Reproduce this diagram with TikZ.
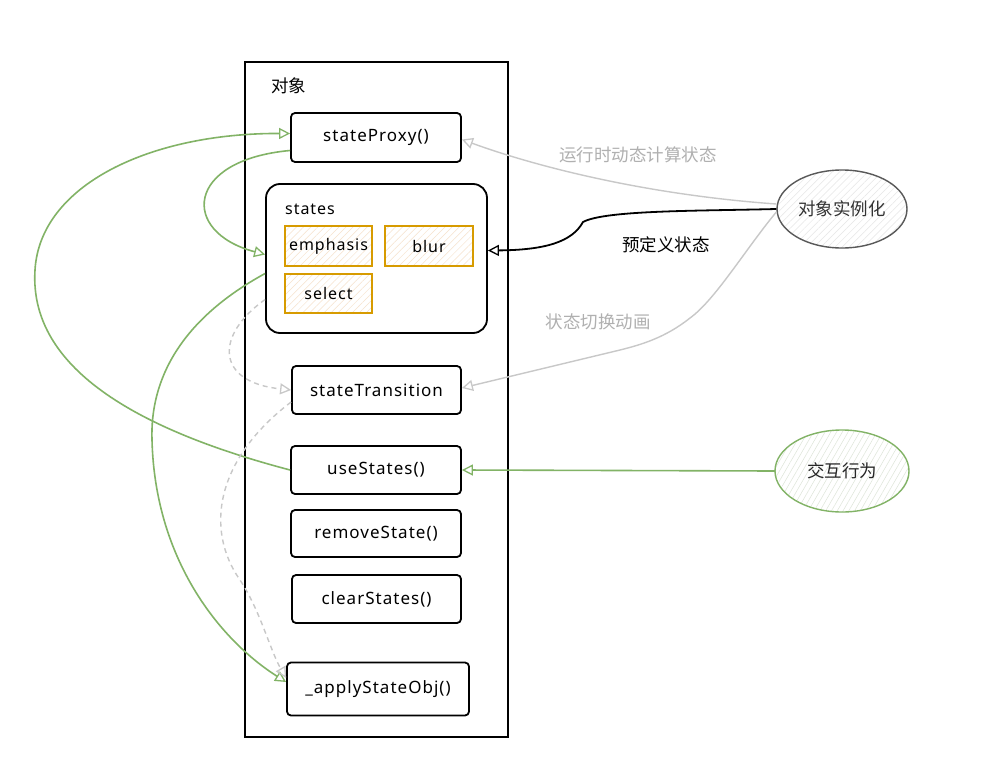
\documentclass[tikz,border=0pt]{standalone}
\usepackage{fontspec}
\setmainfont[LetterSpace=6]{Noto Sans}
\newfontfamily\cjk{Noto Sans CJK SC}
\usetikzlibrary{arrows.meta,patterns.meta,shapes.geometric}
\definecolor{gline}{HTML}{C8C8C8}
\definecolor{gtext}{HTML}{B0B0B0}
\definecolor{green1}{HTML}{82B366}
\definecolor{orange1}{HTML}{D79B00}
\definecolor{orhatch}{HTML}{F6E2CC}
\definecolor{ghatch}{HTML}{E6E6E6}
\definecolor{grhatch}{HTML}{DDE5D8}
\tikzset{
  container/.style={draw=black, line width=1.7pt, minimum width=263pt, minimum height=675pt, inner sep=0pt},
  method/.style={draw=black, line width=1.8pt, rounded corners=4pt, fill=white, font=\fontsize{17}{19}\selectfont, inner sep=0pt},
  statebox/.style={draw=black, line width=1.8pt, rounded corners=14pt, fill=white, inner sep=0pt},
  stateitem/.style={draw=orange1, line width=1.7pt, pattern={Lines[angle=45,distance=5pt,line width=0.5pt]}, pattern color=orhatch, font=\fontsize{16}{18}\selectfont, inner sep=0pt},
  bubble/.style={ellipse, line width=1.4pt, inner sep=0pt},
  cjklabel/.style={font=\cjk\fontsize{17.5}{19}\selectfont, inner sep=0pt},
  tip/.style={-{Triangle[open,length=11pt,width=11pt,line width=1.3pt]}},
  grayarrow/.style={tip, draw=gline, line width=1.4pt},
  blackarrow/.style={tip, draw=black, line width=1.8pt},
  greenarrow/.style={tip, draw=green1, line width=1.6pt},
  dasharrow/.style={tip, draw=gline, line width=1.4pt, dash pattern=on 5pt off 4pt},
}
\begin{document}
\begin{tikzpicture}[x=1pt,y=-1pt]
\useasboundingbox (0,0) rectangle (985,771);
\fill[white] (0,0) rectangle (985,771);

% container
\node[container] (obj) at (376.5,399.5) {};
\node[cjklabel, anchor=west] (objlabel) at (271,86) {对象};

% methods
\node[method, minimum width=170pt, minimum height=49pt] (proxy) at (376,137.5) {stateProxy()};
\node[statebox, minimum width=221pt, minimum height=149pt] (states) at (376.5,258.5) {};
\node[anchor=west, font=\fontsize{16}{18}\selectfont, inner sep=0pt] (stlabel) at (285,209) {states};
\node[stateitem, minimum width=87pt, minimum height=40pt] (emph) at (328.5,246) {emphasis};
\node[stateitem, minimum width=88pt, minimum height=40pt] (blur) at (429,246) {blur};
\node[stateitem, minimum width=87pt, minimum height=39pt] (select) at (328.5,293.5) {select};
\node[method, minimum width=169pt, minimum height=48pt] (trans) at (376.5,390) {stateTransition};
\node[method, minimum width=170pt, minimum height=48pt] (use) at (376,470) {useStates()};
\node[method, minimum width=170pt, minimum height=47pt] (remove) at (376,533.5) {removeState()};
\node[method, minimum width=169pt, minimum height=48pt] (clear) at (376.5,599) {clearStates()};
\node[method, minimum width=182pt, minimum height=53pt] (apply) at (378,689) {\_applyStateObj()};

% bubbles
\node[bubble, draw=black!65, pattern={Lines[angle=45,distance=5pt,line width=0.5pt]}, pattern color=ghatch, minimum width=130pt, minimum height=78pt] (inst) at (842,209) {};
\node[cjklabel, text=black!80] (instlabel) at (842,209) {对象实例化};
\node[bubble, draw=green1, pattern={Lines[angle=60,distance=5pt,line width=0.5pt]}, pattern color=grhatch, minimum width=134pt, minimum height=82pt] (inter) at (842,471) {};
\node[cjklabel, text=black!85] (interlabel) at (842,471) {交互行为};

% labels
\node[cjklabel, text=gtext] (l1) at (638,155) {运行时动态计算状态};
\node[cjklabel] (l2) at (666,245) {预定义状态};
\node[cjklabel, text=gtext] (l3) at (598,322) {状态切换动画};

% connectors from instantiation
\draw[grayarrow] ([yshift=5pt]inst.west) .. controls (650,195) and (540,168) .. ([yshift=-2pt]proxy.east);
\draw[blackarrow] (inst.west) .. controls (700,211) and (605,210) .. (583,222)
   .. controls (572,242) and (545,250) .. ([yshift=8pt]states.east);
\draw[grayarrow] ([yshift=-3pt]inst.west) .. controls (745,250) and (715,300) .. (690,318)
   .. controls (665,338) and (640,345) .. (620,350) -- ([yshift=2pt]trans.east);
\draw[greenarrow] (inter.west) -- (use.east);

% green internal curves
\draw[greenarrow] (use.west) .. controls (100,420) and (30,350) .. (35,270)
   .. controls (40,185) and (150,133) .. ([yshift=4pt]proxy.west);
\draw[greenarrow] ([yshift=-13pt]proxy.west) .. controls (185,160) and (180,232) .. ([yshift=4pt]states.west);
\draw[greenarrow] ([yshift=-15pt]states.west) .. controls (180,320) and (150,380) .. (152,440)
   .. controls (155,560) and (220,640) .. ([yshift=7pt]apply.west);

% gray dashed
\draw[dasharrow] ([yshift=-41pt]states.west) .. controls (215,335) and (215,382) .. (trans.west);
\draw[dasharrow] ([yshift=-12pt]trans.west) .. controls (215,460) and (205,530) .. (240,580)
   .. controls (260,610) and (270,650) .. ([yshift=11pt]apply.west);
\end{tikzpicture}
\end{document}
